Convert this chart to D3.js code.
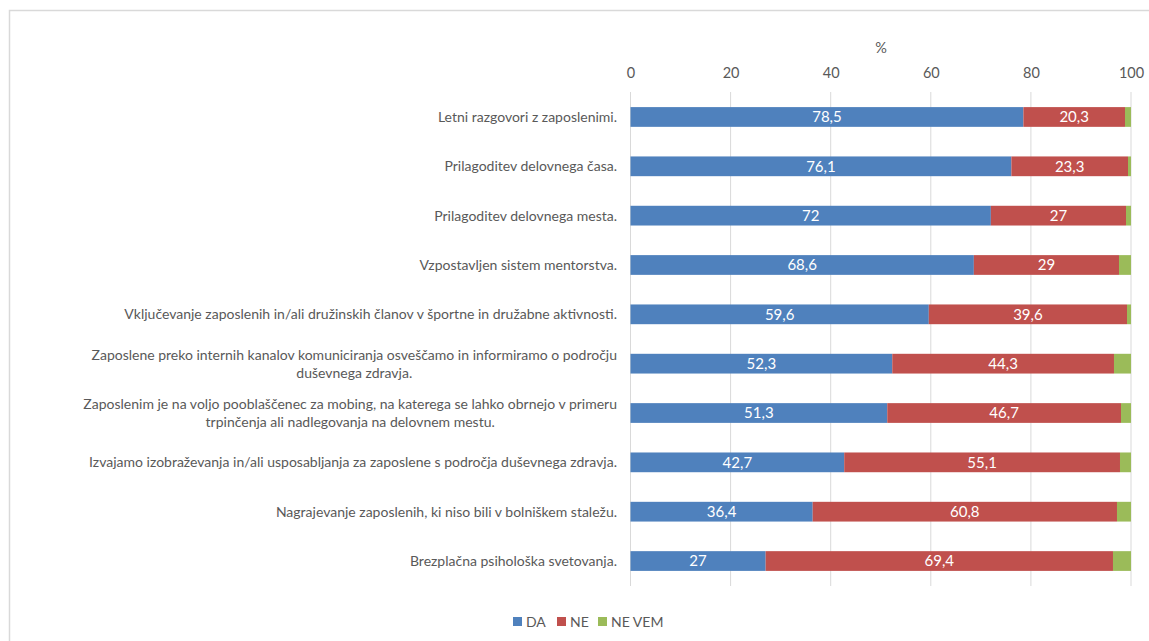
<!DOCTYPE html>
<html><head><meta charset="utf-8">
<script src="https://cdn.jsdelivr.net/npm/d3@7"></script>
<style>body{margin:0;background:#fff;} svg{display:block;font-family:Lato,"Open Sans",sans-serif;}</style>
</head><body>
<svg id="c" width="1149" height="641"></svg>
<script>
const categories = [
  ["Letni razgovori z zaposlenimi."],
  ["Prilagoditev delovnega časa."],
  ["Prilagoditev delovnega mesta."],
  ["Vzpostavljen sistem mentorstva."],
  ["Vključevanje zaposlenih in/ali družinskih članov v športne in družabne aktivnosti."],
  ["Zaposlene preko internih kanalov komuniciranja osveščamo in informiramo o področju", "duševnega zdravja."],
  ["Zaposlenim je na voljo pooblaščenec za mobing, na katerega se lahko obrnejo v primeru", "trpinčenja ali nadlegovanja na delovnem mestu."],
  ["Izvajamo izobraževanja in/ali usposabljanja za zaposlene s področja duševnega zdravja."],
  ["Nagrajevanje zaposlenih, ki niso bili v bolniškem staležu."],
  ["Brezplačna psihološka svetovanja."]
];
const seriesNames = ["DA", "NE", "NE VEM"];
const valuesDA = [78.5, 76.1, 72, 68.6, 59.6, 52.3, 51.3, 42.7, 36.4, 27];
const valuesNE = [20.3, 23.3, 27, 29, 39.6, 44.3, 46.7, 55.1, 60.8, 69.4];
const valuesNEVEM = [1.2, 0.6, 1, 2.4, 0.8, 3.4, 2, 2.2, 2.8, 3.6];
const xTicks = [0, 20, 40, 60, 80, 100];
const colors = ["#4F81BD", "#C0504D", "#9BBB59"];

const svg = d3.select("#c");
// frame
svg.append("rect").attr("x", 9.5).attr("y", 10.5).attr("width", 1200).attr("height", 700)
  .attr("fill", "none").attr("stroke", "#d9d9d9").attr("stroke-width", 1.5);

const x = d3.scaleLinear().domain([0, 100]).range([630.5, 1131]);
const idx = categories.map((d, i) => i);
const y = d3.scaleBand().domain(idx).range([92.3, 585.7]).paddingInner(0.6).paddingOuter(0.3);

// gridlines
svg.append("g").selectAll("line").data(xTicks).join("line")
  .attr("x1", d => x(d)).attr("x2", d => x(d))
  .attr("y1", 92).attr("y2", 586)
  .attr("stroke", "#d9d9d9").attr("stroke-width", 1);

// axis top
const ax = svg.append("g").attr("transform", "translate(0,92)")
  .call(d3.axisTop(x).tickValues(xTicks).tickSize(0).tickPadding(14));
ax.select(".domain").remove();
ax.selectAll("text").attr("fill", "#595959").style("font-size", "14.5px").style("font-family", "Lato,'Open Sans',sans-serif");
svg.append("text").attr("x", 881).attr("y", 53).attr("text-anchor", "middle")
  .attr("fill", "#595959").style("font-size", "14.5px").text("%");

// stacks
const rows = idx.map(i => ({i, DA: valuesDA[i], NE: valuesNE[i], "NE VEM": valuesNEVEM[i]}));
const stack = d3.stack().keys(seriesNames)(rows);
const bh = y.bandwidth();
stack.forEach((s, k) => {
  const g = svg.append("g");
  g.selectAll("rect").data(s).join("rect")
    .attr("x", d => x(d[0])).attr("width", d => x(d[1]) - x(d[0]))
    .attr("y", d => y(d.data.i)).attr("height", bh)
    .attr("fill", colors[k]);
  if (k < 2) {
    g.selectAll("text").data(s).join("text")
      .attr("x", d => (x(d[0]) + x(d[1])) / 2)
      .attr("y", d => y(d.data.i) + bh / 2)
      .attr("dy", "0.36em").attr("text-anchor", "middle")
      .attr("fill", "#fff").style("font-size", "15px")
      .text(d => String(k === 0 ? valuesDA[d.data.i] : valuesNE[d.data.i]).replace(".", ","));
  }
});

// category labels
const lblRight = 617;
const lg = svg.append("g").style("font-size", "14px").attr("fill", "#595959");
categories.forEach((lines, i) => {
  const cy = y(i) + bh / 2;
  if (lines.length === 1) {
    lg.append("text").attr("x", lblRight).attr("y", cy).attr("dy", "0.36em")
      .attr("text-anchor", "end").text(lines[0]);
  } else {
    const t = lg.append("text").attr("text-anchor", "middle");
    const spans = lines.map((l, j) => t.append("tspan").attr("y", cy + (j - (lines.length - 1) / 2) * 18).attr("dy", "0.36em").text(l));
    let w = 0;
    spans.forEach(s => { w = Math.max(w, s.node().getComputedTextLength()); });
    spans.forEach(s => s.attr("x", lblRight - w / 2));
  }
});

// legend
const leg = svg.append("g");
const legX = [513, 557, 598];
seriesNames.forEach((n, k) => {
  leg.append("rect").attr("x", legX[k]).attr("y", 617).attr("width", 9).attr("height", 9).attr("fill", colors[k]);
  leg.append("text").attr("x", legX[k] + 13).attr("y", 622).attr("dy", "0.36em")
    .attr("fill", "#595959").style("font-size", "14px").text(n);
});
</script>
</body></html>
